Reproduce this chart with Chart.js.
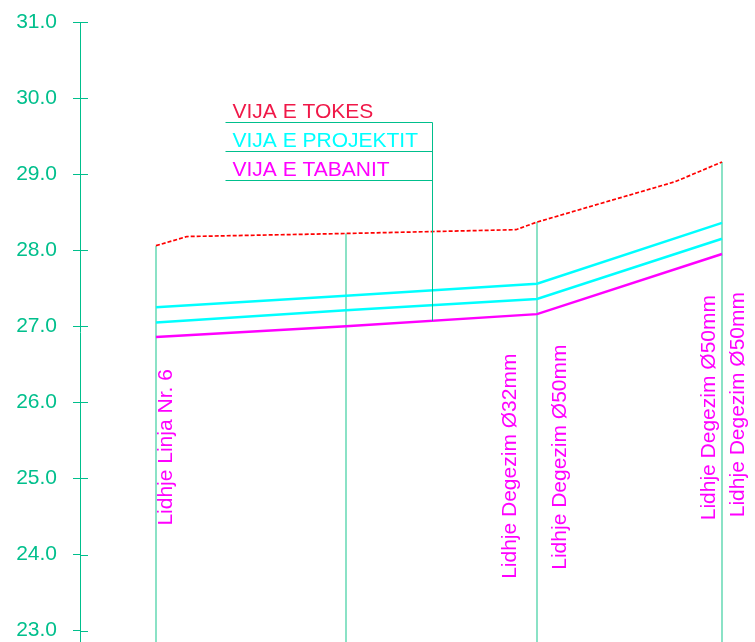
<!DOCTYPE html>
<html>
<head>
<meta charset="utf-8">
<script src="https://cdn.jsdelivr.net/npm/chart.js@4/dist/chart.umd.min.js"></script>
<style>
  html, body { margin: 0; padding: 0; background: #ffffff; }
  #profile { display: block; }
</style>
</head>
<body>
<canvas id="profile" width="755" height="642"></canvas>
<script>
// Profile data (stations in m, levels in m)
const stations = [0, 19.0, 38.1, 56.6];
const groundStations = [0, 3.1, 19.0, 36.0, 38.1, 51.9, 56.6];
const groundLevel = [28.06, 28.18, 28.22, 28.27, 28.37, 28.90, 29.16];
const designUpper = [27.25, 27.40, 27.56, 28.36];
const designLower = [27.05, 27.21, 27.36, 28.15];
const invertLevel = [26.86, 27.00, 27.16, 27.95];
const yTicks = [23, 24, 25, 26, 27, 28, 29, 30, 31];

const legendLabels = ['VIJA E TOKES', 'VIJA E PROJEKTIT', 'VIJA E TABANIT'];
const legendStation = 27.6;

const noteTexts = [
  'Lidhje Linja Nr. 6',
  'Lidhje Degezim Ø32mm',
  'Lidhje Degezim Ø50mm',
  'Lidhje Degezim Ø50mm',
  'Lidhje Degezim Ø50mm'
];
const noteStations = [0, 38.1, 38.1, 56.6, 56.6];
const noteLevels = [24.38, 23.68, 23.80, 24.45, 24.49];

// colours
const TEAL = '#00bf8c';
const RED = '#ff0000';
const RED_TEXT = '#f01848';
const CYAN = '#00ffff';
const MAGENTA = '#ff00ff';
const FONT = '21px "Liberation Sans", Arial, sans-serif';

// baseline offset (px) from the station line for each note
const noteOffsets = [16, -21, 29, -7, 22];

const toPoints = (xs, ys) => xs.map((x, i) => ({ x: x, y: ys[i] }));

// level of a polyline at station s
function levelAt(xs, ys, s) {
  for (let i = 1; i < xs.length; i++) {
    if (s <= xs[i]) {
      const t = (s - xs[i - 1]) / (xs[i] - xs[i - 1]);
      return ys[i - 1] + t * (ys[i] - ys[i - 1]);
    }
  }
  return ys[ys.length - 1];
}

const Y_MIN = 22.85;

// vertical station lines, from ground down to the bottom
const stationLines = stations.map(s => ({
  data: [{ x: s, y: levelAt(groundStations, groundLevel, s) }, { x: s, y: Y_MIN }],
  borderColor: '#4dd3a8',
  borderWidth: 1.3,
  pointRadius: 0,
  order: 10
}));

const datasets = [
  ...stationLines,
  {
    data: toPoints(groundStations, groundLevel),
    borderColor: RED,
    borderWidth: 1.7,
    borderDash: [4, 2],
    pointRadius: 0,
    order: 1
  },
  {
    data: toPoints(stations, designUpper),
    borderColor: CYAN,
    borderWidth: 2.5,
    pointRadius: 0,
    order: 1
  },
  {
    data: toPoints(stations, designLower),
    borderColor: CYAN,
    borderWidth: 2.5,
    pointRadius: 0,
    order: 1
  },
  {
    data: toPoints(stations, invertLevel),
    borderColor: MAGENTA,
    borderWidth: 2.5,
    pointRadius: 0,
    order: 1
  }
];

const profileDecor = {
  id: 'profileDecor',
  afterDraw(chart) {
    const ctx = chart.ctx;
    const xs = chart.scales.x;
    const ys = chart.scales.y;

    ctx.save();
    // inner half of the axis ticks
    ctx.strokeStyle = TEAL;
    ctx.lineWidth = 1;
    yTicks.forEach(v => {
      const py = Math.round(ys.getPixelForValue(v)) + 0.5;
      ctx.beginPath();
      ctx.moveTo(ys.right, py);
      ctx.lineTo(ys.right + 8, py);
      ctx.stroke();
    });

    // legend block with leader line
    const ax = Math.round(xs.getPixelForValue(legendStation)) + 0.5;
    const top = 122.5;
    const rowH = 29;
    const left = ax - 207;
    const colors = [RED_TEXT, CYAN, MAGENTA];
    ctx.font = FONT;
    ctx.textAlign = 'left';
    ctx.textBaseline = 'alphabetic';
    legendLabels.forEach((txt, i) => {
      const ly = top + i * rowH;
      ctx.fillStyle = colors[i];
      ctx.fillText(txt, left + 7, ly - 5);
      ctx.strokeStyle = TEAL;
      ctx.beginPath();
      ctx.moveTo(left, ly);
      ctx.lineTo(ax, ly);
      ctx.stroke();
    });
    const endY = ys.getPixelForValue(levelAt(stations, invertLevel, legendStation));
    ctx.beginPath();
    ctx.moveTo(ax, top);
    ctx.lineTo(ax, endY);
    ctx.stroke();

    // rotated notes at the stations
    ctx.fillStyle = MAGENTA;
    noteTexts.forEach((txt, i) => {
      const px = xs.getPixelForValue(noteStations[i]) + noteOffsets[i];
      const py = ys.getPixelForValue(noteLevels[i]);
      ctx.save();
      ctx.translate(px, py);
      ctx.rotate(-Math.PI / 2);
      ctx.fillText(txt, 0, 0);
      ctx.restore();
    });
    ctx.restore();
  }
};

new Chart(document.getElementById('profile'), {
  type: 'line',
  data: { datasets },
  options: {
    responsive: false,
    devicePixelRatio: 1,
    animation: false,
    layout: { padding: { top: 22, left: 0, right: 0, bottom: 0 } },
    plugins: {
      legend: { display: false },
      tooltip: { enabled: false }
    },
    elements: { line: { tension: 0 } },
    scales: {
      x: {
        type: 'linear',
        display: false,
        min: -7.6,
        max: 59.9
      },
      y: {
        type: 'linear',
        position: 'left',
        min: Y_MIN,
        max: 31,
        afterBuildTicks: scale => { scale.ticks = yTicks.map(v => ({ value: v })); },
        afterFit: scale => {
          scale.width = 80;
          scale.paddingTop = 0;
          scale.paddingBottom = 0;
        },
        border: { display: true, color: TEAL, width: 1 },
        grid: { drawOnChartArea: false, drawTicks: true, tickLength: 7, color: TEAL },
        ticks: {
          color: TEAL,
          padding: 16,
          font: { family: '"Liberation Sans", Arial, sans-serif', size: 21 },
          callback: v => Number(v).toFixed(1)
        }
      }
    }
  },
  plugins: [profileDecor]
});
</script>
</body>
</html>
